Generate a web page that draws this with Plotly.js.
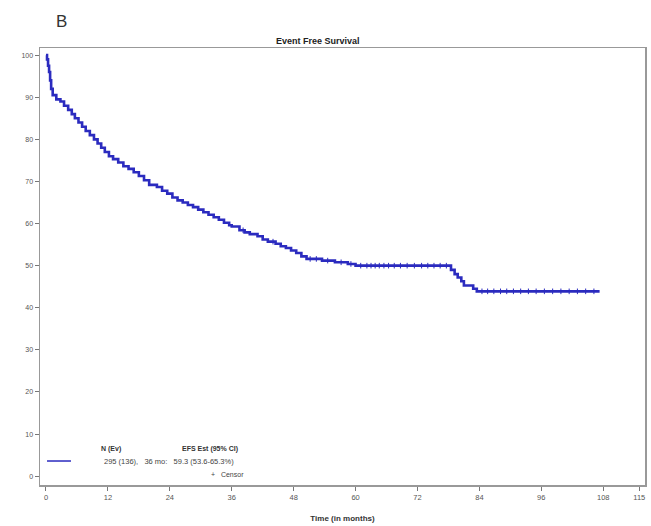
<!DOCTYPE html>
<html>
<head>
<meta charset="utf-8">
<script src="https://cdn.plot.ly/plotly-3.0.1.min.js"></script>
<style>
  html, body { margin: 0; padding: 0; background: #ffffff; }
  #chart { width: 651px; height: 526px; }
</style>
</head>
<body>
<div id="chart"></div>
<script>
// Kaplan-Meier estimate of event free survival (%), step times in months
const eventTimes = [0, 0.2, 0.4, 0.6, 0.8, 1.0, 1.3, 2.0, 2.8, 3.5, 4.3, 5.0, 5.6, 6.3, 7.0, 7.7,
  8.5, 9.3, 10.0, 10.7, 11.4, 12.2, 13.0, 14.0, 15.0, 16.0, 17.0, 18.0, 19.0, 20.0, 21.5,
  22.5, 23.5, 24.5, 25.5, 26.5, 27.5, 28.5, 29.5, 30.5, 31.5, 32.5, 33.5, 34.5, 35.5, 36.0,
  37.5, 38.5, 39.5, 41.0, 42.0, 43.0, 44.5, 45.5, 46.5, 47.5, 48.5, 49.5, 50.5, 53.5, 56.0,
  58.5, 60.0, 78.5, 79.2, 79.8, 80.5, 81.0, 82.8, 83.5, 107.3];
const survival = [100, 99, 97.5, 96, 94, 92, 90.5, 89.5, 89, 88, 87, 86, 85, 84, 83, 82,
  81, 80, 79, 78, 77, 76, 75.3, 74.5, 73.6, 73, 72.2, 71.3, 70.3, 69.2, 68.7,
  67.8, 67.1, 66.2, 65.5, 65, 64.4, 63.9, 63.3, 62.7, 62.1, 61.5, 60.9, 60.2, 59.6, 59.3,
  58.4, 57.9, 57.5, 57, 56.2, 55.7, 55.2, 54.6, 54.2, 53.6, 53, 52.2, 51.6, 51.2, 50.8,
  50.4, 50.0, 49, 48, 47.2, 46.3, 45.3, 44.5, 43.9, 43.9];

// Censored observations (months)
const censorTimes = [38.2, 44.0, 51.2, 52.4, 54.6, 57.2, 59.1, 61.0, 62.2, 63.0, 63.8, 64.6,
  65.5, 66.4, 67.5, 68.7, 70.0, 71.4, 72.8, 74.0, 75.2, 76.4, 77.6, 84.5, 85.6, 86.8, 88.1,
  89.3, 90.6, 92.0, 93.5, 95.0, 96.6, 98.2, 99.8, 101.4, 103.0, 104.6, 106.2];

const xTicks = [0, 12, 24, 36, 48, 60, 72, 84, 96, 108, 115];
const yTicks = [0, 10, 20, 30, 40, 50, 60, 70, 80, 90, 100];

// Legend text
const legendHeaders = ["N (Ev)", "EFS Est (95% CI)"];
const legendRow = "295 (136),&nbsp;&nbsp;&nbsp;36 mo:&nbsp;&nbsp;&nbsp;59.3 (53.6-65.3%)";
const censorLabel = "+&nbsp;&nbsp;&nbsp;Censor";

// step value of the survival curve at time t
function survAt(t) {
  let v = survival[0];
  for (let i = 0; i < eventTimes.length; i++) {
    if (eventTimes[i] <= t) v = survival[i]; else break;
  }
  return v;
}

const blue = "#2b2bbf";
const font = "Liberation Sans, Arial, sans-serif";

const traces = [
  {
    x: eventTimes, y: survival, type: "scatter", mode: "lines",
    line: { shape: "hv", color: blue, width: 2.6 },
    hoverinfo: "x+y", showlegend: false
  },
  {
    x: censorTimes, y: censorTimes.map(survAt), type: "scatter", mode: "markers",
    marker: { symbol: "cross-thin-open", size: 4, color: blue, line: { color: blue, width: 1 } },
    hoverinfo: "x+y", showlegend: false
  }
];

const layout = {
  width: 651, height: 526,
  margin: { l: 40, r: 6, t: 48, b: 41, pad: 0 },
  paper_bgcolor: "#ffffff", plot_bgcolor: "#ffffff",
  font: { family: font, color: "#444", size: 7 },
  xaxis: {
    range: [-1.16, 116.1], tickvals: xTicks, ticktext: xTicks.map(String),
    ticks: "outside", ticklen: 4, tickcolor: "#777", tickwidth: 1,
    showline: true, linecolor: "#999", linewidth: 1.5, mirror: true,
    showgrid: false, zeroline: false,
    tickfont: { family: font, size: 7.5, color: "#555" },
    title: { text: "<b>Time (in months)</b>", font: { family: font, size: 8, color: "#333" }, standoff: 15 }
  },
  yaxis: {
    range: [-2.1, 101.7], tickvals: yTicks, ticktext: yTicks.map(String),
    ticks: "outside", ticklen: 4, tickcolor: "#777", tickwidth: 1,
    showline: true, linecolor: "#999", linewidth: 1.5, mirror: true,
    showgrid: false, zeroline: false,
    tickfont: { family: font, size: 7, color: "#555" }
  },
  shapes: [
    { type: "line", xref: "paper", yref: "paper", x0: 0.0116, x1: 0.0512, y0: 0.0549, y1: 0.0549,
      line: { color: blue, width: 1.5 } }
  ],
  annotations: [
    { text: "B", xref: "paper", yref: "paper", x: 0.036, y: 1.0595, xanchor: "center", yanchor: "middle",
      showarrow: false, font: { family: font, size: 17, color: "#333" } },
    { text: "<b>Event Free Survival</b>", xref: "paper", yref: "paper", x: 0.46, y: 1.016,
      xanchor: "center", yanchor: "middle", showarrow: false, font: { family: font, size: 9, color: "#222" } },
    { text: "<b>" + legendHeaders[0] + "</b>", xref: "paper", yref: "paper", x: 0.117, y: 0.083,
      xanchor: "center", yanchor: "middle", showarrow: false, font: { family: font, size: 7, color: "#333" } },
    { text: "<b>" + legendHeaders[1] + "</b>", xref: "paper", yref: "paper", x: 0.281, y: 0.083,
      xanchor: "center", yanchor: "middle", showarrow: false, font: { family: font, size: 7, color: "#333" } },
    { text: legendRow, xref: "paper", yref: "paper", x: 0.213, y: 0.053,
      xanchor: "center", yanchor: "middle", showarrow: false, font: { family: font, size: 7.5, color: "#444" } },
    { text: censorLabel, xref: "paper", yref: "paper", x: 0.31, y: 0.025,
      xanchor: "center", yanchor: "middle", showarrow: false, font: { family: font, size: 7, color: "#444" } }
  ]
};

Plotly.newPlot("chart", traces, layout, { displayModeBar: false, staticPlot: true });
</script>
</body>
</html>
